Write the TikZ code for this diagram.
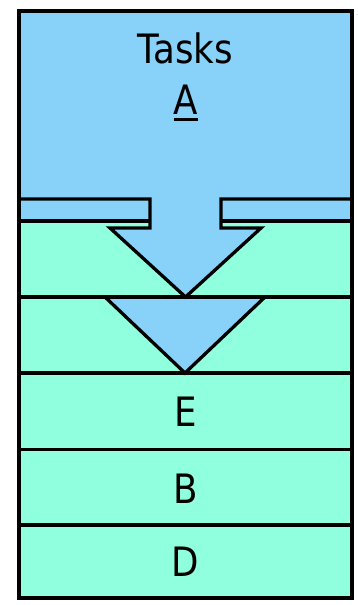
\documentclass[tikz,border=0pt]{standalone}
\usepackage{fontspec}
\setmainfont{DejaVu Sans}[FakeStretch=0.88]
\definecolor{blueA}{RGB}{136,210,250}
\definecolor{greenA}{RGB}{144,255,222}
\newcommand\myul[1]{\setbox0\hbox{#1}\leavevmode\rlap{\rule[-6.5pt]{\wd0}{3pt}}\box0}
\tikzset{
  lbl/.style={inner sep=0pt, anchor=base, font=\fontsize{40.5}{48}\selectfont},
  edge/.style={draw=black, line width=3.3pt},
}
\begin{document}
\begin{tikzpicture}[x=1pt,y=-1pt]
\useasboundingbox (0,0) rectangle (357,605);
% backgrounds
\fill[greenA] (19,221) rectangle (352,598);
\fill[blueA] (19,11) rectangle (352,221);
% second arrow head fill
\fill[blueA] (105,297) -- (185,373) -- (265,297) -- cycle;
% stripe lines
\draw[edge] (19,221) -- (150,221);
\draw[edge] (221,221) -- (352,221);
\draw[edge] (19,297) -- (352,297);
\draw[edge] (19,373) -- (352,373);
\draw[edge] (19,449.5) -- (352,449.5);
\draw[edge] (19,525) -- (352,525);
% second arrow head outline
\draw[edge] (105,297) -- (185,373) -- (265,297);
% main block arrow
\fill[blueA] (150,199) -- (150,228) -- (110,228) -- (185.5,297) -- (261,228) -- (221,228) -- (221,199) -- cycle;
\draw[edge] (19,199) -- (150,199) -- (150,228) -- (110,228) -- (185.5,297) -- (261,228) -- (221,228) -- (221,199) -- (352,199);
% outer frame
\draw[edge, line width=3.6pt] (19,11) rectangle (352,598);
% texts
\node[lbl] (tasks) at (185,63.3) {Tasks};
\node[lbl] (a) at (186,114) {\myul{A}};
\node[lbl] (e) at (185.5,426) {E};
\node[lbl] (b) at (185.5,503) {B};
\node[lbl] (d) at (185.5,576) {D};
\end{tikzpicture}
\end{document}
